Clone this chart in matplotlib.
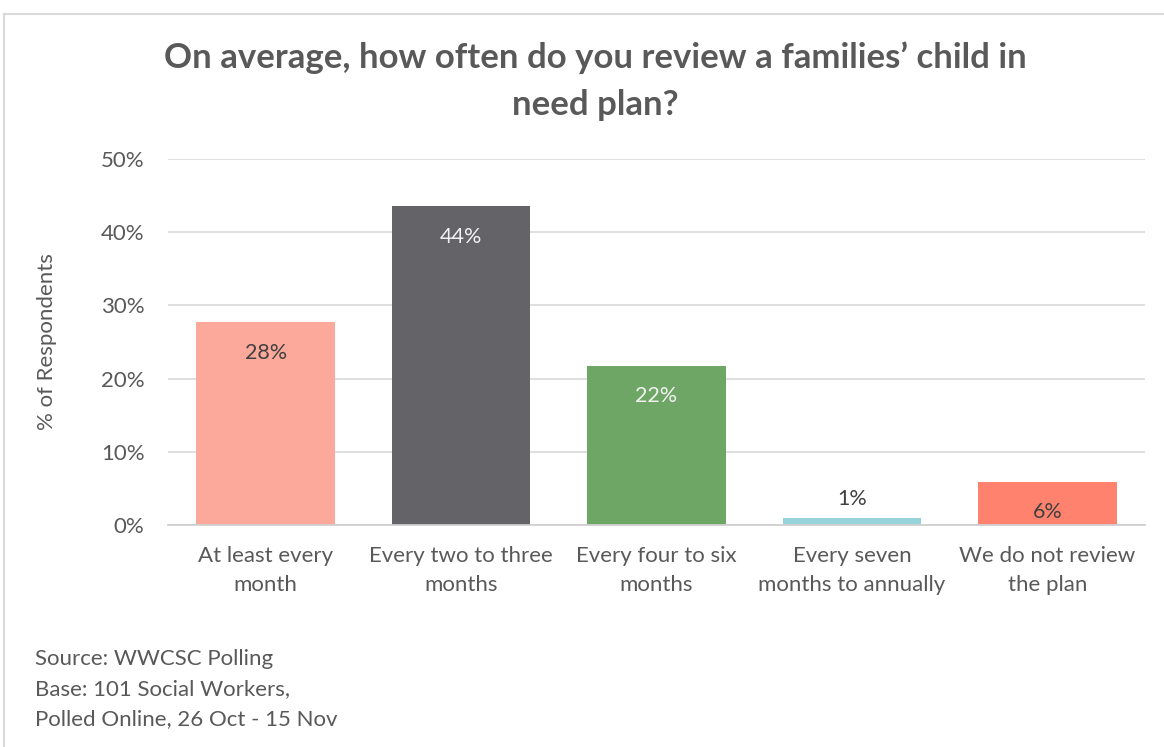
import matplotlib.pyplot as plt
from matplotlib.lines import Line2D

plt.rcParams['font.family'] = ['Lato', 'DejaVu Sans']

categories = ['At least every\nmonth', 'Every two to three\nmonths', 'Every four to six\nmonths',
              'Every seven\nmonths to annually', 'We do not review\nthe plan']
counts = [28, 44, 22, 1, 6]
base = 101
values = [c / base * 100 for c in counts]
bar_colors = ['#FCA99B', '#636368', '#6EA665', '#96D3DB', '#FF826E']
label_colors = ['#404040', '#F2F2F2', '#F2F2F2', '#404040', '#404040']
yticks = [0, 10, 20, 30, 40, 50]

title = 'On average, how often do you review a families\u2019 child in\nneed plan?'
source = 'Source: WWCSC Polling\nBase: 101 Social Workers,\nPolled Online, 26 Oct - 15 Nov'

W, H = 1164, 747
fig = plt.figure(figsize=(W / 100, H / 100), dpi=100)
ax = fig.add_axes([168 / W, 1 - 525 / H, (1145 - 168) / W, (525 - 159) / H])

x = range(len(categories))
ax.bar(x, values, width=0.71, color=bar_colors, zorder=2)

for i, v in enumerate(values):
    txt = '%d%%' % round(v)
    if v < 3:
        ax.annotate(txt, (i, v), xytext=(0, 6), textcoords='offset points',
                    ha='center', va='bottom', fontsize=15.5, color=label_colors[i])
    else:
        ax.annotate(txt, (i, v), xytext=(0, -15), textcoords='offset points',
                    ha='center', va='top', fontsize=15.5, color=label_colors[i])

ax.set_xlim(-0.5, len(categories) - 0.5)
ax.set_ylim(0, 50)
ax.set_yticks(yticks)
ax.set_yticklabels(['%d%%' % t for t in yticks])
ax.set_xticks(list(x))
ax.set_xticklabels(categories, linespacing=1.6)
ax.tick_params(axis='both', length=0, labelsize=16, labelcolor='#595959')
ax.tick_params(axis='y', pad=17)
ax.tick_params(axis='x', pad=15)
ax.grid(axis='y', color='#D9D9D9', linewidth=1.2, zorder=0)
for s in ['top', 'right', 'left']:
    ax.spines[s].set_visible(False)
ax.spines['bottom'].set_color('#D0D0D0')
ax.spines['bottom'].set_linewidth(1.3)
ax.spines['bottom'].set_zorder(3)
ax.set_ylabel('% of Respondents', fontsize=16, color='#595959')
ax.yaxis.set_label_coords(-111 / (1145 - 168), 0.5)

fig.text(595 / W, 1 - 81 / H, title, ha='center', va='center', fontsize=25,
         fontweight='bold', color='#595959', linespacing=1.6)
fig.text(35 / W, 1 - 689 / H, source, ha='left', va='center', fontsize=16,
         color='#595959', linespacing=1.6)

# chart frame (top and left edges visible)
fig.add_artist(Line2D([4 / W, 1], [1 - 14 / H, 1 - 14 / H], transform=fig.transFigure,
                      color='#D9D9D9', linewidth=1.5))
fig.add_artist(Line2D([4 / W, 4 / W], [0, 1 - 14 / H], transform=fig.transFigure,
                      color='#D9D9D9', linewidth=1.5))

fig.savefig('out.png', dpi=100)
